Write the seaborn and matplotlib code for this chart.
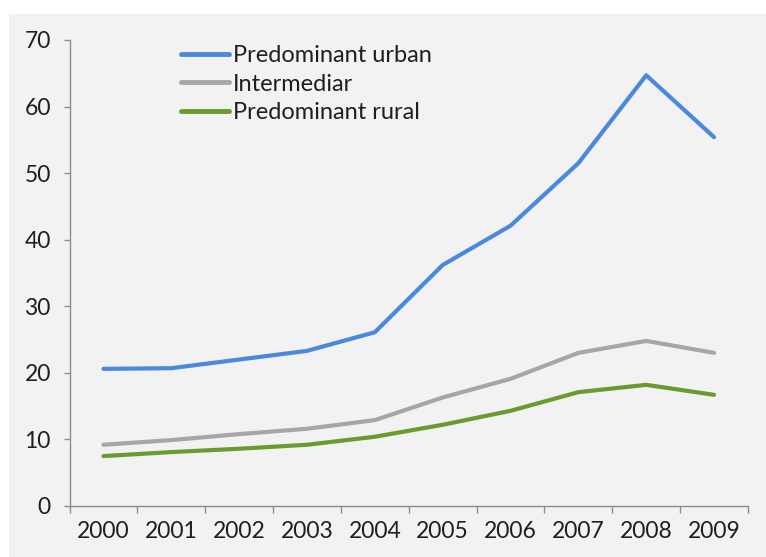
import matplotlib
matplotlib.use("Agg")
import matplotlib.pyplot as plt
import pandas as pd
import seaborn as sns
from matplotlib.patches import Rectangle

years = ["2000", "2001", "2002", "2003", "2004", "2005", "2006", "2007", "2008", "2009"]
urban = [20.6, 20.7, 22.0, 23.3, 26.1, 36.2, 42.1, 51.5, 64.7, 55.4]
intermediar = [9.2, 9.9, 10.8, 11.6, 12.9, 16.3, 19.1, 23.0, 24.8, 23.0]
rural = [7.5, 8.1, 8.6, 9.2, 10.4, 12.2, 14.3, 17.1, 18.2, 16.7]
series_names = ["Predominant urban", "Intermediar", "Predominant rural"]
colors = ["#4a89dc", "#a6a6a6", "#6b9a2e"]

df = pd.DataFrame({
    "pos": list(range(len(years))) * 3,
    "value": urban + intermediar + rural,
    "series": [s for s in series_names for _ in years],
})

sns.set_style("white")
plt.rcParams["font.family"] = ["Lato", "DejaVu Sans"]

bg = "#f2f2f2"
spine = "#8c8c8c"
txt = "#1f1f1f"

fig = plt.figure(figsize=(7.66, 5.57), dpi=100, facecolor="white")
# grey chart area with a thin white strip on the top and left
fig.patches.append(Rectangle((9 / 766, 0), 1, (557 - 14) / 557, transform=fig.transFigure,
                             facecolor=bg, edgecolor="none", zorder=-10))
ax = fig.add_axes([69.5 / 766, (557 - 506) / 557, (748 - 69.5) / 766, (506 - 40) / 557])
ax.set_facecolor(bg)
ax.set_zorder(1)

sns.lineplot(data=df, x="pos", y="value", hue="series", palette=colors,
             hue_order=series_names, linewidth=3, ax=ax, legend=True)

ax.set_xlim(-0.5, 9.5)
ax.set_ylim(0, 70)
ax.set_yticks(range(0, 71, 10))
ax.set_xticks(range(len(years)))
ax.set_xticklabels(years)
# tick marks sit between the categories, like Excel
ax.set_xticks([i - 0.5 for i in range(len(years) + 1)], minor=True)
ax.tick_params(axis="x", which="major", bottom=True, length=0, pad=11,
               labelsize=16.5, labelcolor=txt)
ax.tick_params(axis="x", which="minor", bottom=True, length=5, width=1,
               color=spine, direction="out")
ax.tick_params(axis="y", left=True, length=4.5, width=1, color=spine, direction="out", pad=9,
               labelsize=16.5, labelcolor=txt)
ax.set_xlabel("")
ax.set_ylabel("")

for side in ["top", "right"]:
    ax.spines[side].set_visible(False)
for side in ["left", "bottom"]:
    ax.spines[side].set_color(spine)
    ax.spines[side].set_linewidth(1)

leg = ax.legend(loc="upper left", bbox_to_anchor=(0.137, 1.03), frameon=False,
                fontsize=17, handlelength=2.0, handletextpad=0.2, labelspacing=0.33,
                borderpad=0.3)
for line in leg.get_lines():
    line.set_linewidth(3.5)
for t in leg.get_texts():
    t.set_color(txt)

fig.savefig("out.png", dpi=100, facecolor="white")
